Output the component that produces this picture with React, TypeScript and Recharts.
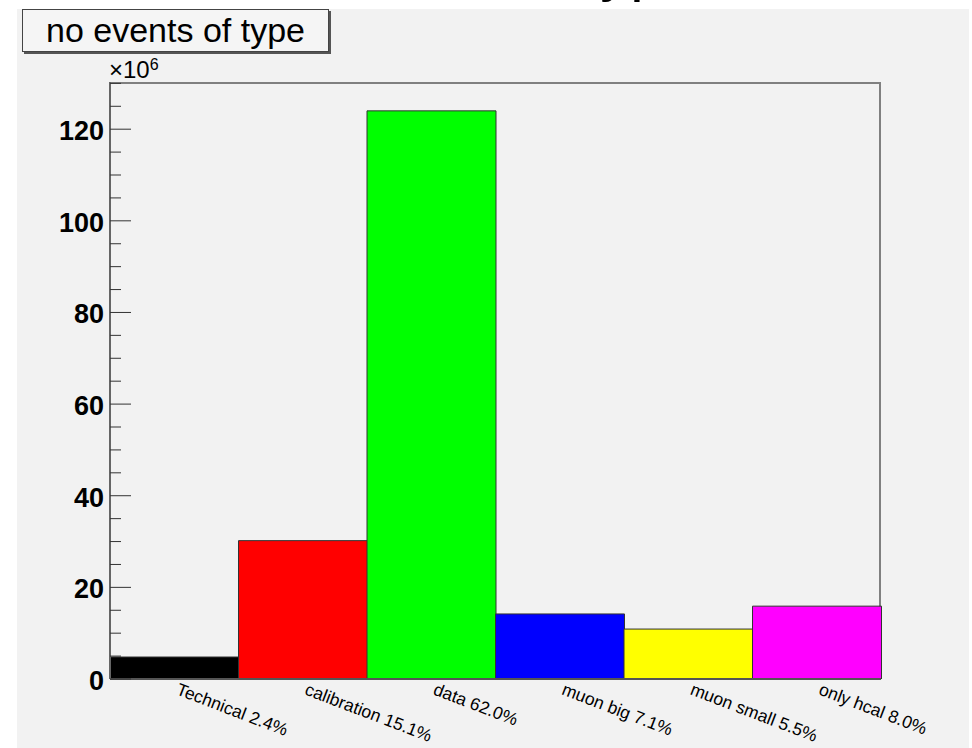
import { BarChart, Bar, Cell, XAxis, YAxis } from 'recharts';

const categories = [
  'Technical 2.4%',
  'calibration 15.1%',
  'data 62.0%',
  'muon big 7.1%',
  'muon small 5.5%',
  'only hcal 8.0%',
];
// events, in units of 10^6
const events = [4.8, 30.2, 124.0, 14.2, 10.9, 15.9];
const colors = ['#000000', '#ff0000', '#00ff00', '#0000ff', '#ffff00', '#ff00ff'];
const yTicks = [0, 5, 10, 15, 20, 25, 30, 35, 40, 45, 50, 55, 60, 65, 70, 75, 80, 85, 90, 95, 100, 105, 110, 115, 120, 125, 130];
const yMax = 130.3;

const data = categories.map((name, i) => ({ name, value: events[i] }));

const FONT = '"Liberation Sans", Arial, Helvetica, sans-serif';
const PLOT_LEFT = 110;
const PLOT_TOP = 82;
const PLOT_RIGHT = 881;
const PLOT_BOTTOM = 679;

function YTick(props: any) {
  const { y, payload } = props;
  const v = payload.value as number;
  const major = v % 20 === 0;
  return (
    <g>
      <line x1={PLOT_LEFT} x2={PLOT_LEFT + (major ? 21 : 11)} y1={y} y2={y} stroke="#333" strokeWidth={1} />
      {major && (
        <text
          x={104}
          y={y + 2}
          textAnchor="end"
          dominantBaseline="central"
          fontFamily={FONT}
          fontWeight="bold"
          fontSize={27}
          fill="#000"
        >
          {v}
        </text>
      )}
    </g>
  );
}

function XTick(props: any) {
  const { x, payload } = props;
  const ty = PLOT_BOTTOM + 15;
  return (
    <text
      x={x + 1}
      y={ty}
      transform={`rotate(21, ${x + 1}, ${ty})`}
      textAnchor="start"
      fontFamily={FONT}
      fontSize={17.5}
      fill="#000"
    >
      {payload.value}
    </text>
  );
}

export default function App() {
  return (
    <div style={{ position: 'absolute', left: 0, top: 0, width: 972, height: 748, background: '#fff', overflow: 'hidden' }}>
      <div style={{ position: 'absolute', left: 17, top: 9, width: 952, height: 739, background: '#f2f2f2' }} />
      {/* frame */}
      <div
        style={{
          position: 'absolute',
          left: PLOT_LEFT,
          top: PLOT_TOP,
          width: PLOT_RIGHT - PLOT_LEFT,
          height: PLOT_BOTTOM - PLOT_TOP,
          borderTop: '2px solid #808080',
          borderRight: '2px solid #808080',
          boxSizing: 'border-box',
        }}
      />
      <div style={{ position: 'absolute', left: 0, top: 0 }}>
        <BarChart
          width={972}
          height={748}
          data={data}
          margin={{ top: PLOT_TOP, right: 972 - PLOT_RIGHT, bottom: 0, left: 0 }}
          barCategoryGap={0}
        >
          <XAxis
            dataKey="name"
            height={748 - PLOT_BOTTOM}
            interval={0}
            tickLine={false}
            axisLine={{ stroke: '#555', strokeWidth: 2 }}
            tick={<XTick />}
          />
          <YAxis
            width={PLOT_LEFT}
            domain={[0, yMax]}
            ticks={yTicks}
            interval={0}
            allowDataOverflow
            tickLine={false}
            axisLine={{ stroke: '#666', strokeWidth: 2 }}
            tick={<YTick />}
          />
          <Bar dataKey="value" stroke="#333" strokeWidth={1} isAnimationActive={false}>
            {data.map((d, i) => (
              <Cell key={`cell-${i}`} fill={colors[i % colors.length]} />
            ))}
          </Bar>
        </BarChart>
      </div>
      {/* big title, mostly cut off at the top */}
      <svg width={972} height={30} style={{ position: 'absolute', left: 0, top: 0 }}>
        <text x={240} y={-10} fontFamily={FONT} fontSize={60} fill="#000">
          no events of type
        </text>
      </svg>
      {/* stats title box */}
      <div
        style={{
          position: 'absolute',
          left: 22,
          top: 9,
          width: 307,
          height: 43,
          boxSizing: 'border-box',
          border: '1px solid #444',
          boxShadow: '2px 2px 0 #555',
          background: '#f5f5f5',
          fontFamily: FONT,
          fontSize: 34,
          lineHeight: '41px',
          textAlign: 'center',
          color: '#000',
        }}
      >
        no events of type
      </div>
      <div
        style={{
          position: 'absolute',
          left: 109,
          top: 57,
          fontFamily: FONT,
          fontSize: 24,
          lineHeight: '26px',
          color: '#000',
        }}
      >
        ×10<sup style={{ fontSize: 16, verticalAlign: 'top', position: 'relative', top: -5 }}>6</sup>
      </div>
    </div>
  );
}
